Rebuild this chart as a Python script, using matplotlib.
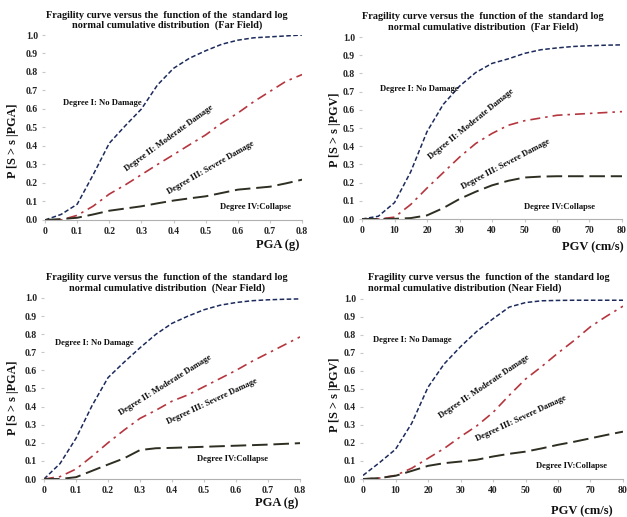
import matplotlib
matplotlib.use("Agg")
import matplotlib.pyplot as plt

# ---- data ----
pga = [0, 0.05, 0.1, 0.15, 0.2, 0.25, 0.3, 0.35, 0.4, 0.45, 0.5, 0.55, 0.6, 0.65, 0.7, 0.75, 0.8]
pgv = [0, 5, 10, 15, 20, 25, 30, 35, 40, 45, 50, 55, 60, 65, 70, 75, 80]

far_pga_d1 = [0, 0.03, 0.085, 0.245, 0.415, 0.51, 0.60, 0.73, 0.82, 0.875, 0.915, 0.95, 0.972, 0.985, 0.99, 0.995, 1.0]
far_pga_d2 = [0, 0.0, 0.025, 0.075, 0.14, 0.19, 0.245, 0.30, 0.353, 0.407, 0.46, 0.524, 0.578, 0.64, 0.695, 0.75, 0.786]
far_pga_d4 = [0, 0.005, 0.012, 0.03, 0.05, 0.062, 0.074, 0.09, 0.105, 0.117, 0.128, 0.146, 0.164, 0.172, 0.18, 0.198, 0.218]

far_pgv_d1 = [0, 0.015, 0.09, 0.26, 0.48, 0.63, 0.73, 0.805, 0.855, 0.88, 0.91, 0.93, 0.94, 0.948, 0.952, 0.955, 0.957]
far_pgv_d2 = [0, 0.0, 0.01, 0.08, 0.17, 0.255, 0.34, 0.415, 0.47, 0.515, 0.54, 0.555, 0.57, 0.575, 0.58, 0.585, 0.59]
far_pgv_d4 = [0, 0.0, 0.001, 0.005, 0.02, 0.06, 0.11, 0.15, 0.185, 0.21, 0.228, 0.233, 0.235, 0.235, 0.235, 0.235, 0.235]

near_pga_d1 = [0, 0.085, 0.225, 0.405, 0.56, 0.645, 0.725, 0.80, 0.86, 0.90, 0.935, 0.96, 0.975, 0.985, 0.99, 0.993, 0.995]
near_pga_d2 = [0, 0.013, 0.055, 0.125, 0.20, 0.27, 0.335, 0.38, 0.43, 0.465, 0.51, 0.555, 0.60, 0.65, 0.695, 0.74, 0.785]
near_pga_d4 = [0, 0.0, 0.01, 0.045, 0.08, 0.114, 0.16, 0.17, 0.172, 0.175, 0.178, 0.181, 0.184, 0.187, 0.19, 0.194, 0.198]

near_pgv_d1 = [0.02, 0.09, 0.165, 0.31, 0.51, 0.64, 0.735, 0.82, 0.89, 0.955, 0.98, 0.99, 0.992, 0.993, 0.993, 0.993, 0.993]
near_pgv_d2 = [0, 0.005, 0.02, 0.06, 0.115, 0.17, 0.235, 0.295, 0.37, 0.465, 0.555, 0.625, 0.70, 0.77, 0.846, 0.905, 0.96]
near_pgv_d4 = [0, 0.005, 0.018, 0.045, 0.073, 0.088, 0.097, 0.107, 0.125, 0.14, 0.152, 0.17, 0.19, 0.207, 0.226, 0.245, 0.263]

pga_ticks = [0, 0.1, 0.2, 0.3, 0.4, 0.5, 0.6, 0.7, 0.8]
pga_ticklabels = ["0", "0.1", "0.2", "0.3", "0.4", "0.5", "0.6", "0.7", "0.8"]
pgv_ticks = [0, 10, 20, 30, 40, 50, 60, 70, 80]
y_ticks = [0.0, 0.1, 0.2, 0.3, 0.4, 0.5, 0.6, 0.7, 0.8, 0.9, 1.0]

title_far = "Fragility curve versus the  function of the  standard log\nnormal cumulative distribution  (Far Field)"
title_near = "Fragility curve versus the  function of the  standard log\nnormal cumulative distribution  (Near Field)"
title_near_v = "Fragility curve versus the  function of the  standard log\nnormal cumulative distribution (Near Field)"

plt.rcParams['font.family'] = ['Liberation Serif', 'DejaVu Serif']

C1 = "#1c2a5c"
C2 = "#b5363f"
C4 = "#2e2e22"

fig = plt.figure(figsize=(6.27, 5.17), dpi=100)


def panel(rect, x, d1, d2, d4, xmax, xticks, xticklabels, xlabel, ylabel,
          title, tpos, tha, xlpos, xlha, ylpos, labels):
    ax = fig.add_axes(rect)
    ax.plot(x, d1, color=C1, lw=1.1, dashes=(3, 1.6))
    ax.plot(x, d2, color=C2, lw=1.2, dashes=(6, 3, 1.5, 3))
    ax.plot(x, d4, color=C4, lw=1.4, dashes=(8, 3))
    ax.set_xlim(0, xmax)
    ax.set_ylim(0, 1.0)
    ax.set_xticks(xticks)
    ax.set_xticklabels(xticklabels)
    ax.set_yticks(y_ticks)
    ax.set_yticklabels(["%.1f" % v for v in y_ticks])
    for s in ["top", "right", "left"]:
        ax.spines[s].set_visible(False)
    ax.spines["bottom"].set_color("#b0b0b0")
    ax.tick_params(axis="both", length=2, color="#c8c8c8", labelsize=7, pad=3,
                   labelcolor="#222222")
    for lab in ax.get_xticklabels() + ax.get_yticklabels():
        lab.set_fontweight("bold")
    ax.text(tpos[0], tpos[1], title, transform=ax.transAxes, ha=tha, va="bottom",
            fontsize=7.4, fontweight="bold", linespacing=1.12, color="#111111")
    ax.text(xlpos[0], xlpos[1], xlabel, transform=ax.transAxes, ha=xlha,
            va="center", fontsize=9, fontweight="bold", color="#111111")
    ax.text(ylpos[0], ylpos[1], ylabel, transform=ax.transAxes, ha="center",
            va="center", rotation=90, fontsize=8.8, fontweight="bold", color="#111111")
    for (tx, ty, txt, rot, ha) in labels:
        ax.text(tx, ty, txt, rotation=rot, ha=ha, va="center", fontsize=6.2,
                fontweight="bold", color="#111111", rotation_mode="anchor")
    return ax


panel([0.0718, 0.5745, 0.41, 0.3578], pga, far_pga_d1, far_pga_d2, far_pga_d4,
      0.8, pga_ticks, pga_ticklabels, "PGA (g)", "P [S > s |PGA]",
      title_far, (0.475, 1.025), "center", (0.907, -0.135), "center", (-0.125, 0.43),
      [(0.057, 0.63, "Degree I: No Damage", 0, "left"),
       (0.385, 0.44, "Degree II: Moderate Damage", 36, "center"),
       (0.516, 0.28, "Degree III: Severe Damage", 30, "center"),
       (0.545, 0.068, "Degree IV:Collapse", 0, "left")])

panel([0.5774, 0.5764, 0.4146, 0.352], pgv, far_pgv_d1, far_pgv_d2, far_pgv_d4,
      80, pgv_ticks, [str(v) for v in pgv_ticks], "PGV (cm/s)", "P [S > s |PGV]",
      title_far, (0.465, 1.03), "center", (1.005, -0.154), "right", (-0.104, 0.49),
      [(5.6, 0.715, "Degree I: No Damage", 0, "left"),
       (33.5, 0.52, "Degree II: Moderate Damage", 39, "center"),
       (44.3, 0.30, "Degree III: Severe Damage", 28, "center"),
       (49.7, 0.068, "Degree IV:Collapse", 0, "left")])

panel([0.0702, 0.0735, 0.4083, 0.3501], pga, near_pga_d1, near_pga_d2, near_pga_d4,
      0.8, pga_ticks, pga_ticklabels, "PGA (g)", "P [S > s |PGA]",
      title_near, (0.48, 1.03), "center", (0.91, -0.133), "center", (-0.12, 0.45),
      [(0.033, 0.75, "Degree I: No Damage", 0, "left"),
       (0.38, 0.52, "Degree II: Moderate Damage", 32, "center"),
       (0.526, 0.43, "Degree III: Severe Damage", 25, "center"),
       (0.478, 0.11, "Degree IV:Collapse", 0, "left")])

panel([0.579, 0.0735, 0.4146, 0.3482], pgv, near_pgv_d1, near_pgv_d2, near_pgv_d4,
      80, pgv_ticks, [str(v) for v in pgv_ticks], "PGV (cm/s)", "P [S > s |PGV]",
      title_near_v, (0.02, 1.035), "left", (0.96, -0.18), "right", (-0.108, 0.47),
      [(3.1, 0.77, "Degree I: No Damage", 0, "left"),
       (37.4, 0.51, "Degree II: Moderate Damage", 34, "center"),
       (48.7, 0.334, "Degree III: Severe Damage", 25, "center"),
       (53.3, 0.074, "Degree IV:Collapse", 0, "left")])

fig.savefig("out.png", dpi=100)
